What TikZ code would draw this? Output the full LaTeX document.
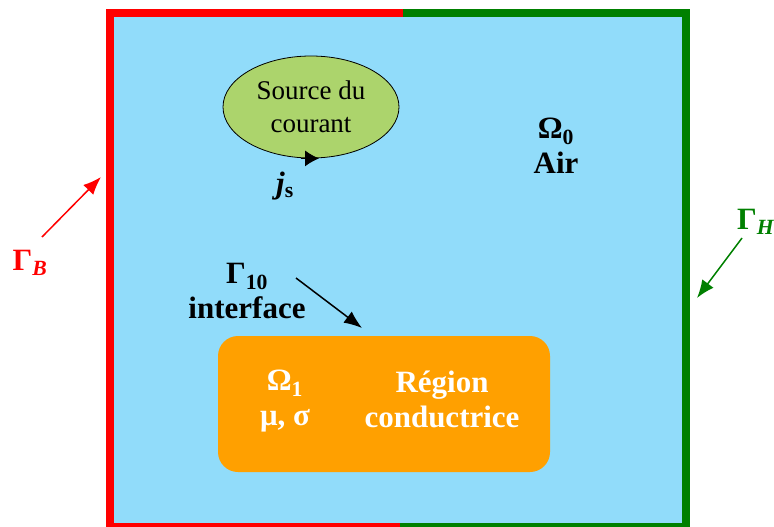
\documentclass[tikz,border=0pt]{standalone}
\usepackage{fontspec}
\setmainfont{Liberation Serif}
\usepackage{tikz}
\usetikzlibrary{arrows,arrows.meta,positioning,shapes,patterns}
\usepackage{xcolor}
\definecolor{airblue}{RGB}{145,220,250}
\definecolor{srcgreen}{RGB}{172,212,108}
\definecolor{condorange}{RGB}{255,160,0}
\definecolor{gbred}{RGB}{255,0,0}
\definecolor{ghgreen}{RGB}{0,128,0}

\begin{document}
\begin{tikzpicture}[x=1pt,y=-1pt,
  lbl/.style={font=\fontsize{31}{35}\selectfont\bfseries,align=center,inner sep=0pt},
  wall/.style={line width=7.5pt},
  pointer/.style={-{Latex[length=18pt,width=14pt]},line width=1.5pt}]
  \useasboundingbox (0,0) rectangle (774,527);

  % 領域
  \fill[airblue] (110,13) rectangle (686,527);
  \draw[wall,gbred] (403,13) -- (110,13) -- (110,527) -- (400,527);
  \draw[wall,ghgreen] (403,13) -- (686,13) -- (686,527) -- (400,527);

  % ノード
  \node (src) [ellipse,draw,thick,fill=srcgreen,minimum width=176,minimum height=102,inner sep=0pt,
    font=\fontsize{27}{33}\selectfont,align=center] at (311,107) {Source du\\courant};
  \node (js) [lbl] at (285,186) {\textit{j}\textsubscript{s}};
  \node (air) [lbl] at (556,146) {Ω\textsubscript{0}\\Air};
  \node (gamma10) [lbl] at (247,291) {Γ\textsubscript{10}\\interface};
  \node (cond) [rounded corners=20pt,fill=condorange,minimum width=332,minimum height=136] at (384,404) {};
  \node (omega1) [lbl,white] at (285,401) {Ω\textsubscript{1}\\μ, σ};
  \node (region) [lbl,white] at (442,399) {Région\\conductrice};
  \node (gammaB) [lbl,gbred] at (30,263) {Γ\textsubscript{\textit{B}}};
  \node (gammaH) [lbl,ghgreen,anchor=west] at (737,222) {Γ\textsubscript{\textit{H}}};

  % 矢印
  \coordinate (gbtail) at (42,237);
  \coordinate (gbhead) at (101,177);
  \coordinate (ghtail) at (742,238);
  \coordinate (ghhead) at (697,298);
  \coordinate (iftail) at (296,278);
  \coordinate (ifhead) at (362,328);
  \draw[pointer,gbred] (gbtail) -- (gbhead);
  \draw[pointer,ghgreen] (ghtail) -- (ghhead);
  \draw[pointer] (iftail) -- (ifhead);
  \draw[-{Latex[length=14pt,width=16pt]},thick] ([xshift=-10]src.south) -- ([xshift=8]src.south);
\end{tikzpicture}
\end{document}
